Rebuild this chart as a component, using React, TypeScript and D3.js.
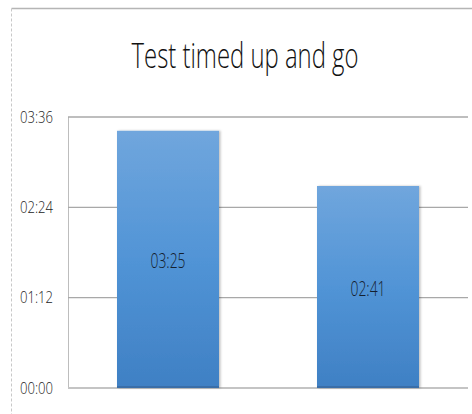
import React from "react";
import * as d3 from "d3";

const categories = ["A", "B"];
const valuesSeconds = [205, 161];
const valueLabels = ["03:25", "02:41"];
const tickSeconds = [0, 72, 144, 216];
const tickLabels = ["00:00", "01:12", "02:24", "03:36"];
const title = "Test timed up and go";

export default function App() {
  const W = 472, H = 414;
  const left = 68, right = 468, top = 117, bottom = 388;
  const x = d3.scaleBand<string>().domain(categories).range([left, right]).paddingInner(0.49).paddingOuter(0.245);
  const y = d3.scaleLinear().domain([0, 216]).range([bottom, top]);
  const font = "'Open Sans', 'Noto Sans', sans-serif";
  return (
    <svg width={W} height={H} style={{ position: "absolute", left: 0, top: 0, background: "#fff" }}>
      <defs>
        <linearGradient id="barGrad" x1="0" y1="0" x2="0" y2="1">
          <stop offset="0%" stopColor="#70a6dd" />
          <stop offset="50%" stopColor="#5194d6" />
          <stop offset="100%" stopColor="#3f80c4" />
        </linearGradient>
        <filter id="shadow" x="-10%" y="-10%" width="130%" height="120%">
          <feDropShadow dx="1.5" dy="0" stdDeviation="1.2" floodColor="#000" floodOpacity="0.25" />
        </filter>
      </defs>
      <rect x={0} y={0} width={W} height={H} fill="#fff" />
      {/* outer chart border */}
      <line x1={11.5} y1={8.5} x2={W} y2={8.5} stroke="#b5b5b5" strokeWidth={1.5} />
      <line x1={11.5} y1={8.5} x2={11.5} y2={H} stroke="#c8c8c8" strokeWidth={1} strokeDasharray="3,2" />
      {/* title */}
      <text x={245} y={68} textAnchor="middle" fontFamily={font} fontWeight={300} fontSize={34} fill="#111"
        textLength={227} lengthAdjust="spacingAndGlyphs">{title}</text>
      {/* plot border left */}
      <line x1={left + 0.5} y1={top} x2={left + 0.5} y2={bottom} stroke="#bdbdbd" strokeWidth={1} />
      {/* gridlines */}
      {tickSeconds.map((t, i) => (
        <line key={"g" + i} x1={left} x2={right} y1={y(t)} y2={y(t)}
          stroke={t === 0 ? "#c4c4c4" : "#a8a8a8"} strokeWidth={t === 0 ? 2 : 1.3} />
      ))}
      {/* ticks */}
      {tickSeconds.map((t, i) => (
        <text key={"t" + i} x={53} y={y(t)} dy="0.36em" textAnchor="end" fontFamily={font} fontWeight={300} fontSize={16}
          fill="#222" textLength={33} lengthAdjust="spacingAndGlyphs">{tickLabels[i]}</text>
      ))}
      {/* bars */}
      {categories.map((c, i) => {
        const bx = x(c)!;
        const bw = x.bandwidth();
        const by = y(valuesSeconds[i]);
        return (
          <g key={"b" + i}>
            <rect x={bx} y={by} width={bw} height={bottom - by} fill="url(#barGrad)" filter="url(#shadow)" />
            <rect x={bx} y={bottom - 2} width={bw} height={2} fill="#3a6ea8" />
            <text x={bx + bw / 2} y={(by + bottom) / 2 + 1.5} dy="0.36em" textAnchor="middle"
              fontFamily={font} fontWeight={300} fontSize={20} fill="#14202e" textLength={35}
              lengthAdjust="spacingAndGlyphs">{valueLabels[i]}</text>
          </g>
        );
      })}
    </svg>
  );
}
